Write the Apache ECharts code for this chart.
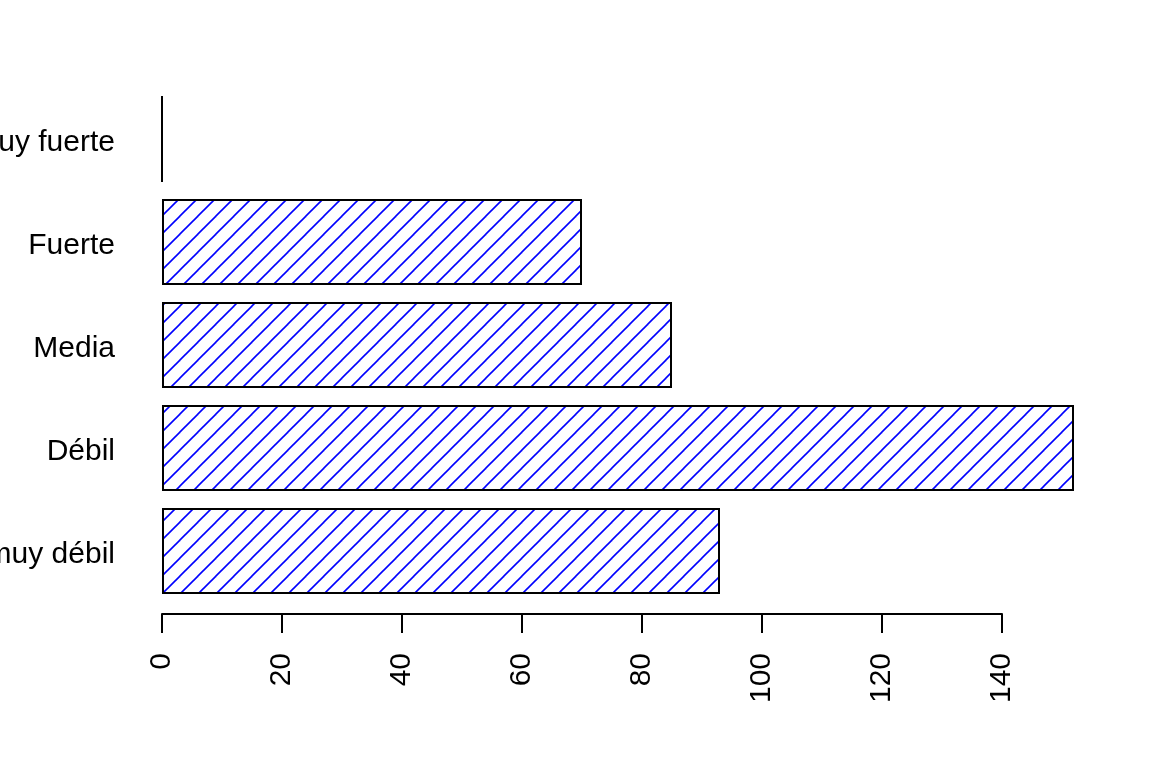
<!DOCTYPE html>
<html>
<head>
<meta charset="utf-8">
<script src="https://cdn.jsdelivr.net/npm/echarts@6/dist/echarts.min.js"></script>
<style>html,body{margin:0;padding:0;background:#fff;}#c{width:1152px;height:768px;}</style>
</head>
<body>
<div id="c"></div>
<script>
const categories = ["muy débil", "Débil", "Media", "Fuerte", "muy fuerte"];
const values = [93, 152, 85, 70, 0];
const tickMin = 0, tickMax = 140, tickStep = 20;

function hatch() {
  const s = 18;
  const cv = document.createElement('canvas');
  cv.width = s; cv.height = s;
  const ctx = cv.getContext('2d');
  ctx.fillStyle = '#ffffff';
  ctx.fillRect(0, 0, s, s);
  ctx.strokeStyle = '#0000ff';
  ctx.lineWidth = 1.6;
  for (const off of [-s, 0, s]) {
    ctx.beginPath();
    ctx.moveTo(off - 1, s + 1);
    ctx.lineTo(off + s + 1, -1);
    ctx.stroke();
  }
  return cv;
}

const chart = echarts.init(document.getElementById('c'), null, {renderer: 'canvas'});
const font = 'Liberation Sans, Arial, sans-serif';
chart.setOption({
  animation: false,
  backgroundColor: '#ffffff',
  grid: [
    {left: 162, right: 60, top: 87.5, bottom: 165.5, containLabel: false, outerBoundsMode: 'none'},
    {left: 162, width: 840, top: 87.5, bottom: 154, containLabel: false, outerBoundsMode: 'none'}
  ],
  xAxis: [
    {gridIndex: 0, type: 'value', min: 0, max: 155, show: false},
    {gridIndex: 1, type: 'value', min: tickMin, max: tickMax, interval: tickStep, position: 'bottom',
     axisLine: {show: true, lineStyle: {color: '#000', width: 2}},
     axisTick: {show: true, length: 19, lineStyle: {color: '#000', width: 2}},
     splitLine: {show: false},
     axisLabel: {rotate: 90, margin: 39, color: '#000', fontSize: 30, fontFamily: font, hideOverlap: false}}
  ],
  yAxis: [
    {gridIndex: 0, type: 'category', data: categories,
     axisLine: {show: false}, axisTick: {show: false}, splitLine: {show: false},
     axisLabel: {margin: 47, color: '#000', fontSize: 30, fontFamily: font, overflow: 'none',
                 verticalAlign: 'top', lineHeight: 8}},
    {gridIndex: 1, type: 'value', show: false}
  ],
  series: [{
    type: 'bar',
    xAxisIndex: 0, yAxisIndex: 0,
    data: values,
    barCategoryGap: '16.7%',
    itemStyle: {
      color: {image: hatch(), repeat: 'repeat'},
      borderColor: '#000',
      borderWidth: 2
    }
  }]
});
</script>
</body>
</html>
